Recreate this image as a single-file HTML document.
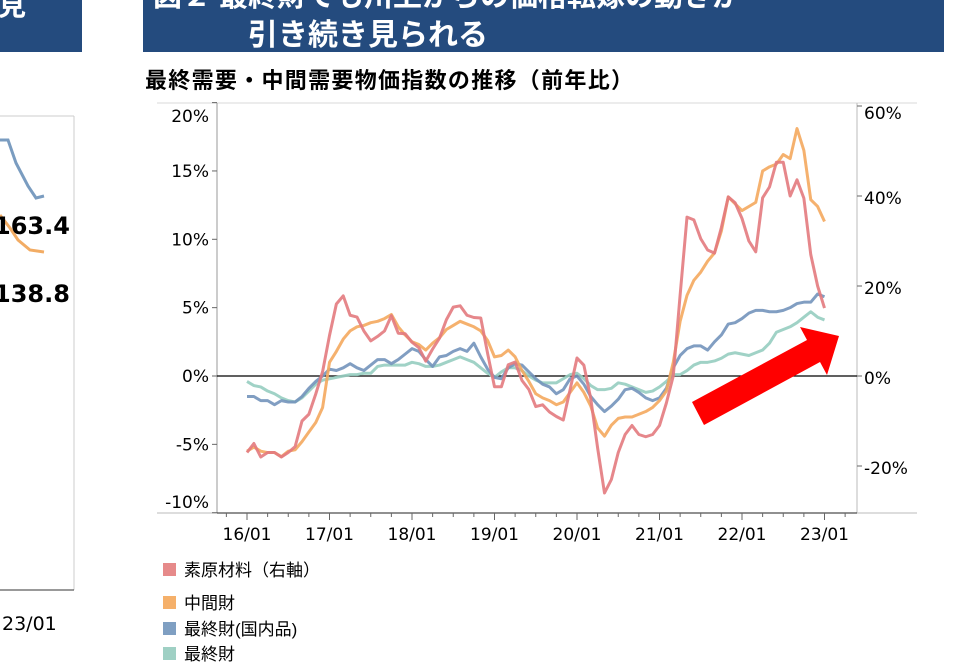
<!DOCTYPE html>
<html><head><meta charset="utf-8">
<style>
body{margin:0;width:979px;height:669px;overflow:hidden;background:#fff;font-family:"Liberation Sans","Noto Sans CJK JP",sans-serif;position:relative}
.hdr{position:absolute;background:#244b7e;color:#fff;font-weight:bold;overflow:hidden}
.t{position:absolute;white-space:nowrap}
</style></head><body>
<div class="hdr" style="left:0;top:0;width:82px;height:52px"><div class="t" style="left:-30px;top:-16px;font-size:28px">と見</div></div>
<div class="hdr" style="left:143px;top:0;width:801px;height:52px">
<div class="t" style="left:10px;top:-27px;font-size:29px">図２ 最終財でも川上からの価格転嫁の動きが</div>
<div class="t" style="left:105px;top:10px;font-size:30px">引き続き見られる</div></div>
<div class="t" style="left:145px;top:63px;font-size:22px;font-weight:bold;letter-spacing:1.3px">最終需要・中間需要物価指数の推移（前年比）</div>
<svg width="979" height="669" style="position:absolute;left:0;top:0">
<g>
<line x1="0" y1="116" x2="74" y2="116" stroke="#ccc"/>
<line x1="74" y1="116" x2="74" y2="590" stroke="#ccc"/>
<line x1="0" y1="590" x2="74" y2="590" stroke="#333"/>
<polyline points="0,140 8,140 16,163 28,186 36,198 44,196" fill="none" stroke="#7a9cc0" stroke-width="3"/>
<polyline points="0,215 10,228 18,240 30,250 44,252" fill="none" stroke="#f2ac64" stroke-width="3"/>
<text x="-6" y="234" font-size="24" font-weight="bold" font-family="DejaVu Sans">163.4</text>
<text x="-6" y="302" font-size="24" font-weight="bold" font-family="DejaVu Sans">138.8</text>
<text x="2" y="630" font-size="19" font-family="DejaVu Sans">23/01</text>
</g>
<g id="plot"></g>
<polygon points="692,402 807,340 800,327 839,336 827,375 820,362 704,425" fill="#ff0000"/>
</svg>
<div>
<div class="t" style="left:163px;top:556px;font-size:17px"><span style="display:inline-block;width:13px;height:13px;background:#e68a8a;margin-right:8px"></span>素原材料（右軸）</div>
<div class="t" style="left:163px;top:589px;font-size:17px"><span style="display:inline-block;width:13px;height:13px;background:#f5b06a;margin-right:8px"></span>中間財</div>
<div class="t" style="left:163px;top:615px;font-size:17px"><span style="display:inline-block;width:13px;height:13px;background:#7f9fc2;margin-right:8px"></span>最終財(国内品)</div>
<div class="t" style="left:163px;top:640px;font-size:17px"><span style="display:inline-block;width:13px;height:13px;background:#9fd0c4;margin-right:8px"></span>最終財</div>
</div>
<script>
const leftTicks=[20,15,10,5,0,-5,-10];
const rightTicks=[60,40,20,0,-20];
const yearLabels=["16/01","17/01","18/01","19/01","20/01","21/01","22/01","23/01"];
const rawMaterials=[-17,-15,-18,-17,-17,-18,-17,-15.7,-10,-8.5,-4,1,9,16,17.8,13.5,13.1,10,7.8,8.8,10,13.4,9.5,9.4,7.5,6.3,3.3,6,8.4,12.5,15.3,15.6,13.5,13,12.9,5,-2.4,-2.4,2.5,3.1,-1,-3,-6.8,-6.4,-8,-9,-9.8,-3,4,2.4,-5,-16,-26,-23,-17,-13,-11,-13,-13.5,-13,-11,-6,0,18,35.3,34.7,30.5,28,27.3,33,39.8,38.5,35,30,27.6,39.6,42,47.5,47.5,40,43.6,39.5,27,20,15.1];
const intermediate=[-5.5,-5.2,-5.5,-5.6,-5.6,-5.9,-5.5,-5.4,-4.8,-4.1,-3.4,-2.3,1,1.8,2.7,3.3,3.6,3.7,3.9,4,4.2,4.5,3.6,3,2.5,2.3,1.9,2.4,2.8,3.4,3.7,4,3.8,3.6,3.3,2.6,1.4,1.5,1.9,1.4,0.4,-0.4,-1.3,-1.6,-1.8,-2.1,-1.9,-1.2,-0.5,-1.2,-2.2,-3.8,-4.4,-3.6,-3.1,-3,-3,-2.8,-2.6,-2.3,-1.8,-1.1,1,4,5.9,7,7.6,8.4,9,10.6,13.1,12.6,12.1,12.4,12.7,15,15.3,15.5,16.2,15.9,18.1,16.5,12.9,12.4,11.3];
const finalDomestic=[-1.5,-1.5,-1.8,-1.8,-2.1,-1.8,-1.9,-1.9,-1.5,-0.9,-0.4,0,0.5,0.4,0.6,0.9,0.6,0.4,0.8,1.2,1.2,0.9,1.2,1.6,2,1.8,1.2,0.7,1.4,1.5,1.8,2,1.8,2.4,1.4,0.5,-0.1,-0.2,0.6,0.9,0.8,0.3,-0.2,-0.6,-0.8,-1.3,-1,-0.2,0,-0.6,-1.5,-2.1,-2.6,-2.2,-1.7,-1,-0.9,-1.2,-1.6,-1.8,-1.6,-0.9,0.6,1.5,2,2.2,2.2,1.9,2.5,3,3.8,3.9,4.2,4.6,4.8,4.8,4.7,4.7,4.8,5,5.3,5.4,5.4,6,5.8];
const finalGoods=[-0.4,-0.7,-0.8,-1.1,-1.3,-1.6,-1.8,-1.9,-1.6,-1.1,-0.6,-0.3,-0.2,-0.1,0,0.1,0.1,0.2,0.2,0.7,0.8,0.8,0.8,0.8,1,0.9,0.7,0.7,0.8,1,1.2,1.4,1.2,1,0.6,0.2,-0.1,0.3,0.6,0.6,0.4,0,-0.3,-0.5,-0.5,-0.5,-0.2,0.1,0.2,-0.2,-0.7,-1,-1,-0.9,-0.5,-0.6,-0.8,-1,-1.2,-1.1,-0.8,-0.4,0.1,0.1,0.4,0.8,1,1,1.1,1.3,1.6,1.7,1.6,1.5,1.7,1.9,2.4,3.2,3.4,3.6,3.9,4.3,4.7,4.3,4.1];

const NS="http://www.w3.org/2000/svg";
const g=document.getElementById('plot');
const X0=247,MONTH=6.875,Y0=376,PXL=13.67,PXR=4.5;
const xAt=i=>X0+i*MONTH;
const yL=v=>Y0-v*PXL;
const yR=v=>Y0-v*PXR;
function mk(tag,attrs){const e=document.createElementNS(NS,tag);for(const k in attrs)e.setAttribute(k,attrs[k]);g.appendChild(e);return e;}
let e;
e=mk('line',{x1:157,y1:103,x2:917,y2:103,stroke:'#d8d8d8'});


e=mk('line',{x1:217,y1:103,x2:217,y2:513,stroke:'#999'});


e=mk('line',{x1:857,y1:103,x2:857,y2:513,stroke:'#bbb'});


e=mk('line',{x1:157,y1:513,x2:217,y2:513,stroke:'#bbb'});


e=mk('line',{x1:217,y1:513,x2:857,y2:513,stroke:'#222'});


e=mk('line',{x1:857,y1:513,x2:917,y2:513,stroke:'#bbb'});


e=mk('line',{x1:217,y1:yL(0),x2:857,y2:yL(0),stroke:'#000','stroke-width':1.3});


leftTicks.forEach(v=>{
  const t=mk('line',{x1:212,y1:yL(v),x2:217,y2:yL(v),stroke:'#666'});
  
  
  const ly=Math.min(Math.max(yL(v),116),502);
  const l=mk('text',{x:209,y:ly+6,'font-size':17,'text-anchor':'end','font-family':'DejaVu Sans'});
  l.textContent=v+'%';
  
  
});
rightTicks.forEach(v=>{
  const t=mk('line',{x1:857,y1:yR(v),x2:862,y2:yR(v),stroke:'#666'});
  
  
  const ly=Math.max(yR(v),111);
  const l=mk('text',{x:864,y:ly+8,'font-size':17,'font-family':'DejaVu Sans'});
  l.textContent=v+'%';
  
  
});
for(let i=-3;i<=87;i+=3){
  const major=i%12===0;
  const t=mk('line',{x1:xAt(i),y1:513,x2:xAt(i),y2:major?520:517,stroke:'#666'});
  
  
}
yearLabels.forEach((s,k)=>{
  const l=mk('text',{x:xAt(k*12),y:540,'font-size':17,'text-anchor':'middle','font-family':'DejaVu Sans'});
  l.textContent=s;
  
  
});
function line(arr,yf,color,name){
  const p=mk('polyline',{points:arr.map((v,i)=>xAt(i)+','+yf(v)).join(' '),fill:'none',stroke:color,'stroke-width':3,'stroke-linejoin':'round','stroke-opacity':0.9});
  
  
}
line(finalGoods,yL,'#96cdc0','series-final-goods');
line(finalDomestic,yL,'#7393bb','series-final-domestic');
line(intermediate,yL,'#f4a95e','series-intermediate');
line(rawMaterials,yR,'#e37a7e','series-raw-materials');
</script>
</body></html>
